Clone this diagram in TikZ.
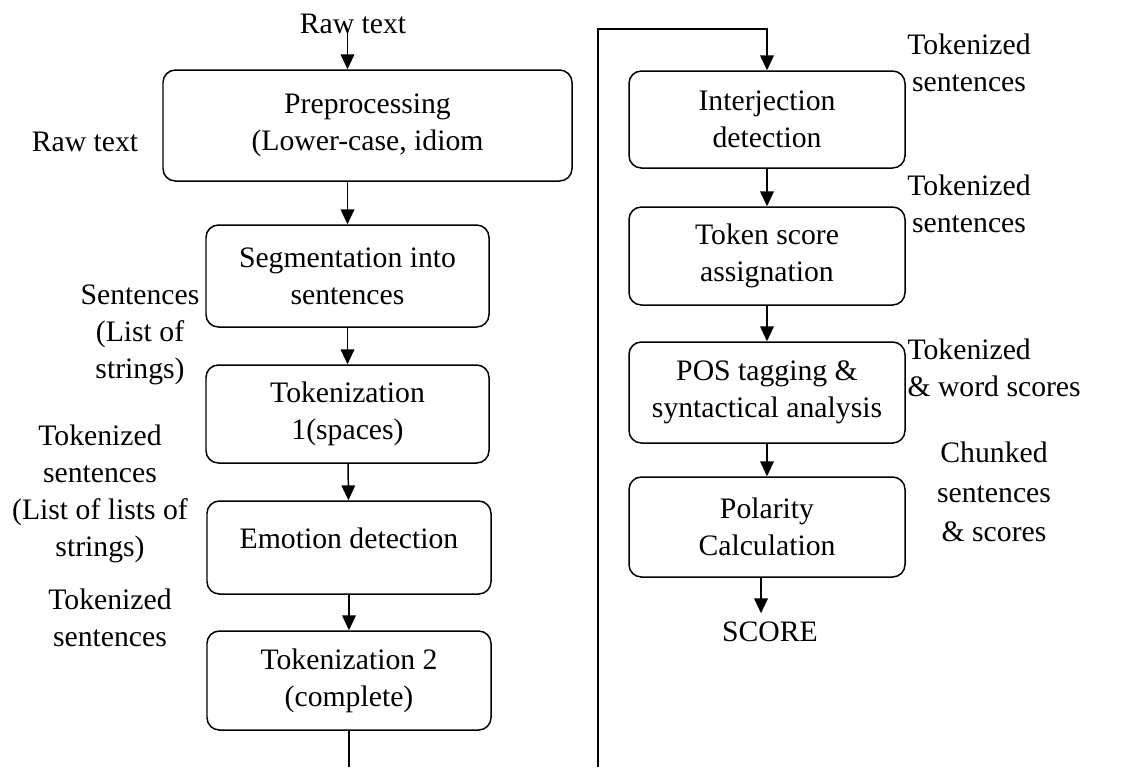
\documentclass[tikz,border=0pt]{standalone}
\usepackage{fontspec}
\setmainfont{Liberation Serif}
\usetikzlibrary{arrows.meta}
\newcommand\pxu{0.404pt}

\begin{document}
\begin{tikzpicture}[x=\pxu, y=-\pxu,
		every node/.style={font=\fontsize{12}{15}\selectfont, align=center},
		procbox/.style={draw, line width=0.6pt, rounded corners=5pt, inner sep=0pt},
		arr/.style={line width=0.6pt, -{Triangle[length=6pt, width=5.5pt]}},
		flow/.style={line width=0.6pt}]
			\useasboundingbox (0,0) rectangle (1134,767);

			% left column
			\node[procbox, minimum width=409*\pxu, minimum height=111*\pxu] (pre) at (367.5,125.5) {Preprocessing\\(Lower-case, idiom} ;
			\node[procbox, minimum width=283*\pxu, minimum height=102*\pxu] (seg) at (347.5,276) {Segmentation into\\sentences} ;
			\node[procbox, minimum width=283*\pxu, minimum height=98*\pxu] (tokone) at (347.5,414) {Tokenization\\1(spaces)} ;
			\node[procbox, minimum width=284*\pxu, minimum height=93*\pxu, text depth=7.5pt] (emo) at (349,547.5) {Emotion detection} ;
			\node[procbox, minimum width=284*\pxu, minimum height=99*\pxu] (toktwo) at (349,680.5) {Tokenization 2\\(complete)} ;

			% right column
			\node[procbox, minimum width=276*\pxu, minimum height=97*\pxu] (inter) at (767,119.5) {Interjection\\detection} ;
			\node[procbox, minimum width=276*\pxu, minimum height=98*\pxu] (tscore) at (767,256) {Token score\\assignation} ;
			\node[procbox, minimum width=276*\pxu, minimum height=101*\pxu] (pos) at (767,392.5) {POS tagging \&\\syntactical analysis} ;
			\node[procbox, minimum width=276*\pxu, minimum height=100*\pxu] (pol) at (767,527) {Polarity\\Calculation} ;
			\node (score) at (770,632) {SCORE} ;

			% data labels
			\node (rawtop) at (353,24) {Raw text} ;
			\node (rawleft) at (85,142) {Raw text} ;
			\node (sent) at (140,335) {Sentences\\(List of\\strings)} ;
			\node (toklist) at (100,494) {Tokenized\\sentences\\(List of lists of\\strings)} ;
			\node (tokleft) at (110,617.5) {Tokenized\\sentences} ;
			\node (tokra) at (969,62.5) {Tokenized\\sentences} ;
			\node (tokrb) at (969,203.5) {Tokenized\\sentences} ;
			\node[anchor=west, align=left, inner sep=0pt] (tokword) at (907,368) {Tokenized\\\& word scores} ;
			\node[font=\fontsize{12}{16}\selectfont] (chunk) at (994,492) {Chunked\\sentences\\\& scores} ;

			% loop ends
			\coordinate (outL) at (349,767) ;
			\coordinate (inR) at (598,767) ;
			\coordinate (topR) at (598,29) ;

			% arrows
			\draw[arr] (seg.north |- 0,28) -- (seg.north |- pre.north) ;
			\draw[arr] (seg.north |- pre.south) -- (seg.north) ;
			\draw[arr] (seg) -- (tokone) ;
			\draw[arr] (tokone) -- (emo) ;
			\draw[arr] (emo) -- (toktwo) ;
			\draw[flow] (toktwo) -- (outL) ;
			\draw[arr] (inR) |- (inter.north |- topR) -- (inter.north) ;
			\draw[arr] (inter) -- (tscore) ;
			\draw[arr] (tscore) -- (pos) ;
			\draw[arr] (pos) -- (pol) ;
			\draw[arr] ([xshift=-6*\pxu]pol.south) -- ([xshift=-6*\pxu]pol.south |- score.north) ;

		\end{tikzpicture}
\end{document}
